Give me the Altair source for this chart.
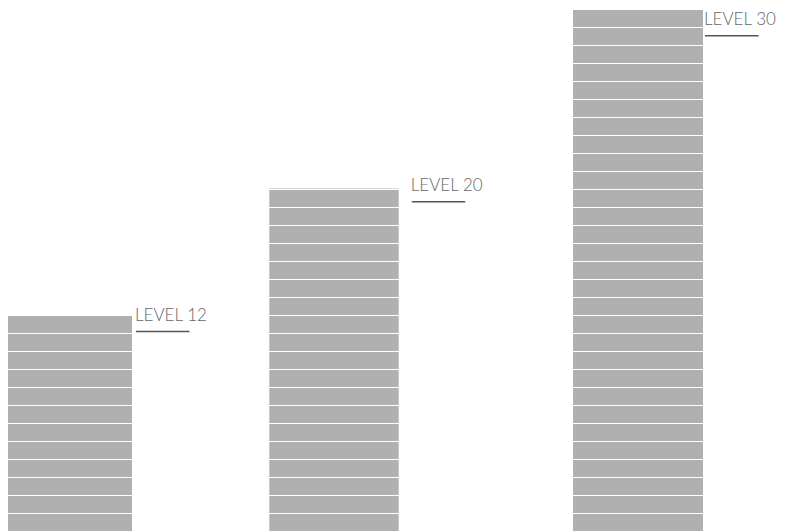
import altair as alt
import pandas as pd

# Data
labels = ["LEVEL 12", "LEVEL 20", "LEVEL 30"]
heights = [12, 19.03, 29]          # bar heights in grid units
x_start = [-0.6, 26.13, 56.5]      # bar left edge (x units)
x_end = [12.4, 39.07, 69.5]        # bar right edge (x units)
label_x = [12.8, 40.37, 69.7]      # label start (x units)
label_y = [11.667, 18.87, 28.1]    # label baseline (grid units)
grid_values = list(range(1, 30))   # white grid lines across the bars
underline_len = 5.35

df = pd.DataFrame({
    "label": labels,
    "h": heights,
    "x0": x_start,
    "x1": x_end,
    "lx": label_x,
    "ly": label_y,
})
df["lx2"] = df["lx"] + underline_len
grid_df = pd.DataFrame({"g": grid_values})

xs = alt.Scale(domain=[0, 77])
ys = alt.Scale(domain=[0, 29], zero=False, nice=False)

bars = alt.Chart(df).mark_bar(color="#b0b0b0", clip=True, cornerRadius=0).encode(
    x=alt.X("x0:Q", scale=xs, axis=None),
    x2="x1:Q",
    y=alt.Y("h:Q", scale=ys, axis=None),
    y2=alt.datum(0),
)

grid = alt.Chart(grid_df).mark_rule(color="#ffffff", strokeWidth=1, yOffset=0.5).encode(
    y=alt.Y("g:Q", scale=ys, axis=None),
)

text = alt.Chart(df).mark_text(
    align="left",
    baseline="alphabetic",
    font="Lato",
    fontWeight=300,
    fontSize=17,
    color="#666666",
    dx=-1,
).encode(
    x=alt.X("lx:Q", scale=xs, axis=None),
    y=alt.Y("ly:Q", scale=ys, axis=None),
    text="label:N",
)

under = alt.Chart(df).mark_rule(color="#555555", strokeWidth=1.5, yOffset=10.5).encode(
    x=alt.X("lx:Q", scale=xs, axis=None),
    x2="lx2:Q",
    y=alt.Y("ly:Q", scale=ys, axis=None),
)

chart = alt.layer(bars, grid, text, under).properties(
    width=770,
    height=522,
    padding={"top": 1, "left": 0, "right": 0, "bottom": 0},
    autosize=alt.AutoSizeParams(type="none"),
    background="white",
).configure_view(stroke=None, strokeWidth=0)

chart.save("out.html", embed_options={"renderer": "svg", "actions": False})
